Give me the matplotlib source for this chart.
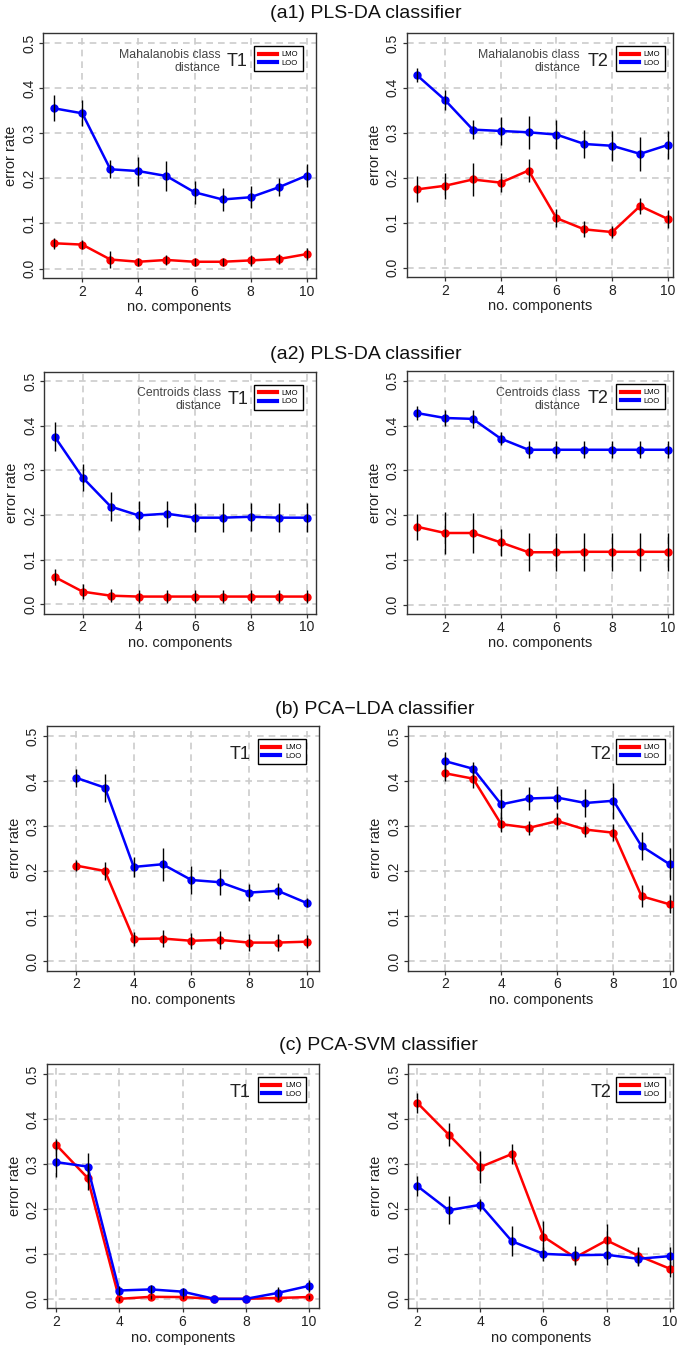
import numpy as np
import matplotlib
matplotlib.use("Agg")
import matplotlib.pyplot as plt
from matplotlib.lines import Line2D

plt.rcParams['font.family'] = ['Liberation Sans', 'DejaVu Sans']

# ---- data ----
x_a = [1, 2, 3, 4, 5, 6, 7, 8, 9, 10]
x_bc = [2, 3, 4, 5, 6, 7, 8, 9, 10]

# (a1) PLS-DA, Mahalanobis
a1_t1_lmo = [0.056, 0.053, 0.020, 0.015, 0.019, 0.015, 0.015, 0.018, 0.021, 0.032]
a1_t1_lmo_err = [0.012, 0.010, 0.018, 0.009, 0.011, 0.009, 0.009, 0.012, 0.011, 0.014]
a1_t1_loo = [0.355, 0.344, 0.220, 0.216, 0.205, 0.169, 0.153, 0.158, 0.180, 0.206]
a1_t1_loo_err = [0.029, 0.029, 0.020, 0.032, 0.033, 0.025, 0.025, 0.024, 0.020, 0.026]

a1_t2_lmo = [0.174, 0.182, 0.196, 0.189, 0.216, 0.110, 0.085, 0.079, 0.137, 0.108]
a1_t2_lmo_err = [0.029, 0.029, 0.037, 0.021, 0.026, 0.020, 0.018, 0.014, 0.018, 0.021]
a1_t2_loo = [0.428, 0.373, 0.307, 0.304, 0.301, 0.296, 0.275, 0.271, 0.253, 0.273]
a1_t2_loo_err = [0.016, 0.022, 0.021, 0.031, 0.037, 0.033, 0.031, 0.033, 0.038, 0.032]

# (a2) PLS-DA, centroids
a2_t1_lmo = [0.061, 0.028, 0.019, 0.017, 0.017, 0.017, 0.017, 0.017, 0.017, 0.017]
a2_t1_lmo_err = [0.017, 0.017, 0.014, 0.015, 0.015, 0.015, 0.015, 0.015, 0.015, 0.015]
a2_t1_loo = [0.376, 0.284, 0.219, 0.199, 0.203, 0.194, 0.194, 0.196, 0.194, 0.194]
a2_t1_loo_err = [0.033, 0.031, 0.032, 0.033, 0.029, 0.032, 0.032, 0.032, 0.032, 0.032]

a2_t2_lmo = [0.174, 0.160, 0.160, 0.139, 0.117, 0.117, 0.118, 0.118, 0.118, 0.118]
a2_t2_lmo_err = [0.029, 0.046, 0.044, 0.030, 0.043, 0.043, 0.043, 0.043, 0.043, 0.043]
a2_t2_loo = [0.428, 0.417, 0.415, 0.371, 0.346, 0.346, 0.346, 0.346, 0.346, 0.346]
a2_t2_loo_err = [0.016, 0.017, 0.020, 0.015, 0.019, 0.019, 0.019, 0.019, 0.019, 0.019]

# (b) PCA-LDA
b_t1_lmo = [0.212, 0.200, 0.049, 0.050, 0.045, 0.047, 0.041, 0.041, 0.043]
b_t1_lmo_err = [0.012, 0.021, 0.016, 0.018, 0.018, 0.020, 0.019, 0.019, 0.015]
b_t1_loo = [0.407, 0.385, 0.209, 0.215, 0.180, 0.175, 0.152, 0.156, 0.129]
b_t1_loo_err = [0.020, 0.031, 0.022, 0.037, 0.031, 0.029, 0.018, 0.018, 0.010]

b_t2_lmo = [0.417, 0.405, 0.304, 0.296, 0.311, 0.292, 0.285, 0.144, 0.126]
b_t2_lmo_err = [0.018, 0.021, 0.017, 0.015, 0.018, 0.016, 0.019, 0.025, 0.020]
b_t2_loo = [0.444, 0.427, 0.348, 0.361, 0.363, 0.351, 0.356, 0.255, 0.215]
b_t2_loo_err = [0.021, 0.016, 0.033, 0.026, 0.025, 0.031, 0.040, 0.031, 0.036]

# (c) PCA-SVM
c_t1_lmo = [0.343, 0.269, 0.000, 0.0045, 0.004, 0.000, 0.000, 0.002, 0.004]
c_t1_lmo_err = [0.013, 0.027, 0.004, 0.004, 0.004, 0.000, 0.000, 0.004, 0.004]
c_t1_loo = [0.304, 0.294, 0.0185, 0.021, 0.016, 0.000, 0.000, 0.013, 0.029]
c_t1_loo_err = [0.033, 0.030, 0.011, 0.010, 0.008, 0.000, 0.000, 0.013, 0.014]

c_t2_lmo = [0.436, 0.365, 0.293, 0.322, 0.138, 0.092, 0.130, 0.096, 0.067]
c_t2_lmo_err = [0.022, 0.026, 0.036, 0.023, 0.036, 0.014, 0.036, 0.020, 0.018]
c_t2_loo = [0.251, 0.197, 0.209, 0.128, 0.100, 0.097, 0.098, 0.089, 0.095]
c_t2_loo_err = [0.023, 0.031, 0.014, 0.033, 0.016, 0.021, 0.023, 0.017, 0.021]

titles = ["(a1) PLS-DA classifier", "(a2) PLS-DA classifier",
          "(b) PCA\u2212LDA classifier", "(c) PCA-SVM classifier"]

W, H = 685, 1352
fig = plt.figure(figsize=(W / 100, H / 100), dpi=100)


def box(x0, y0, x1, y1):
    # pixel box (top-left origin) -> figure fraction
    return [x0 / W, 1 - y1 / H, (x1 - x0) / W, (y1 - y0) / H]


def panel(rect, x, lmo, lmo_err, loo, loo_err, xlim, tag, note=None,
          xlabel="no. components", tag_x=0.75, leg_x=0.952):
    ax = fig.add_axes(rect)
    ax.set_xlim(*xlim)
    ax.set_ylim(-0.021, 0.522)
    ax.set_xticks([2, 4, 6, 8, 10])
    ax.set_yticks([0.0, 0.1, 0.2, 0.3, 0.4, 0.5])
    ax.set_yticklabels(["0.0", "0.1", "0.2", "0.3", "0.4", "0.5"],
                       rotation=90, va="center")
    ax.grid(True, color="#cccccc", linestyle=(0, (4, 3)), linewidth=1.2)
    ax.set_axisbelow(True)
    for s in ax.spines.values():
        s.set_color("#333333")
        s.set_linewidth(1.0)
    ax.tick_params(direction="out", length=3, width=0.9, color="#333333",
                   labelsize=10, pad=2, labelcolor="#222222")
    ax.plot(x, lmo, color="#ff0000", lw=1.8, marker="o", ms=5, zorder=3)
    ax.errorbar(x, lmo, yerr=lmo_err, fmt="none", ecolor="black",
                elinewidth=1.0, capsize=0, zorder=4)
    ax.plot(x, loo, color="#0000ff", lw=1.8, marker="o", ms=5, zorder=3)
    ax.errorbar(x, loo, yerr=loo_err, fmt="none", ecolor="black",
                elinewidth=1.0, capsize=0, zorder=4)
    ax.set_xlabel(xlabel, fontsize=10.5, labelpad=1, color="#222222")
    ax.set_ylabel("error rate", fontsize=10.5, labelpad=3, color="#222222")
    ax.text(tag_x, 0.885, tag, transform=ax.transAxes, ha="right",
            va="center", fontsize=13, color="#222222")
    if note:
        ax.text(0.651, 0.884, note, transform=ax.transAxes, ha="right",
                va="center", fontsize=8.8, color="#444444", linespacing=1.15)
    handles = [Line2D([], [], color="#ff0000", lw=3),
               Line2D([], [], color="#0000ff", lw=3)]
    leg = ax.legend(handles, ["LMO", "LOO"], loc="upper right",
                    bbox_to_anchor=(leg_x, 0.945), fontsize=5.5,
                    frameon=True, fancybox=False, handlelength=2.4,
                    handletextpad=0.6, borderpad=0.6, labelspacing=0.15,
                    borderaxespad=0)
    leg.get_frame().set_edgecolor("black")
    leg.get_frame().set_linewidth(1.0)
    leg.get_frame().set_alpha(1)
    return ax


maha = "Mahalanobis class\ndistance"
cent = "Centroids class\ndistance"

panel(box(43, 33, 316, 278), x_a, a1_t1_lmo, a1_t1_lmo_err, a1_t1_loo,
      a1_t1_loo_err, (0.6, 10.33), "T1", maha)
panel(box(406.7, 33, 673, 277), x_a, a1_t2_lmo, a1_t2_lmo_err, a1_t2_loo,
      a1_t2_loo_err, (0.63, 10.18), "T2", maha, tag_x=0.756, leg_x=0.97)

panel(box(44, 371.5, 316, 613.5), x_a, a2_t1_lmo, a2_t1_lmo_err, a2_t1_loo,
      a2_t1_loo_err, (0.62, 10.33), "T1", cent)
panel(box(406.7, 371, 673, 614), x_a, a2_t2_lmo, a2_t2_lmo_err, a2_t2_loo,
      a2_t2_loo_err, (0.63, 10.18), "T2", cent, tag_x=0.756, leg_x=0.97)

panel(box(46.7, 726, 319.3, 970.5), x_bc, b_t1_lmo, b_t1_lmo_err, b_t1_loo,
      b_t1_loo_err, (0.98, 10.44), "T1", tag_x=0.746)
panel(box(408.3, 726, 673, 970.5), x_bc, b_t2_lmo, b_t2_lmo_err, b_t2_loo,
      b_t2_loo_err, (0.69, 10.12), "T2", tag_x=0.768, leg_x=0.97)

panel(box(46.7, 1064, 319.3, 1308.3), x_bc, c_t1_lmo, c_t1_lmo_err, c_t1_loo,
      c_t1_loo_err, (1.71, 10.32), "T1", tag_x=0.748)
panel(box(408.3, 1064, 673, 1308.3), x_bc, c_t2_lmo, c_t2_lmo_err, c_t2_loo,
      c_t2_loo_err, (1.72, 10.1), "T2", xlabel="no components",
      tag_x=0.768, leg_x=0.97)

for t, xc, yc in zip(titles, [365.5, 366, 374.5, 378], [14, 354, 709, 1045]):
    fig.text(xc / W, 1 - yc / H, t, ha="center", va="center", fontsize=14,
             color="#111111")

fig.savefig("out.png", dpi=100)
